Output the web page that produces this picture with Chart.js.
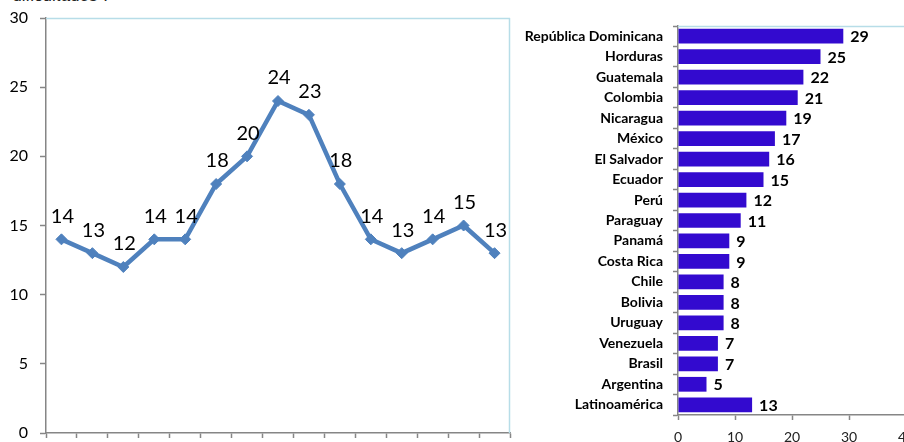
<!DOCTYPE html>
<html>
<head>
<meta charset="utf-8">
<script src="https://cdn.jsdelivr.net/npm/chart.js@4.4.1/dist/chart.umd.min.js"></script>
<style>
  html, body { margin: 0; padding: 0; background: #fff; overflow: hidden; width: 904px; height: 442px; }
  #wrap { position: relative; width: 904px; height: 442px; overflow: hidden; }
  #note { position: absolute; left: 13px; top: -14px; font: italic 17px "Liberation Sans", Arial, sans-serif; color: #222; }
  #lineChart { position: absolute; left: 0; top: 0; }
  #barChart { position: absolute; left: 511px; top: 0; }
</style>
</head>
<body>
<div id="wrap">
  <div id="note">dificultades".</div>
  <canvas id="lineChart" width="520" height="442"></canvas>
  <canvas id="barChart" width="420" height="442"></canvas>
</div>
<script>
// serie temporal (izquierda)
const periods     = ['1','2','3','4','5','6','7','8','9','10','11','12','13','14','15'];
const periodVals  = [14, 13, 12, 14, 14, 18, 20, 24, 23, 18, 14, 13, 14, 15, 13];
const yTicksLeft  = [0, 5, 10, 15, 20, 25, 30];

// países (derecha)
const countries = [
  'República Dominicana', 'Horduras', 'Guatemala', 'Colombia', 'Nicaragua',
  'México', 'El Salvador', 'Ecuador', 'Perú', 'Paraguay', 'Panamá',
  'Costa Rica', 'Chile', 'Bolivia', 'Uruguay', 'Venezuela', 'Brasil',
  'Argentina', 'Latinoamérica',
];
const countryVals = [29, 25, 22, 21, 19, 17, 16, 15, 12, 11, 9, 9, 8, 8, 8, 7, 7, 5, 13];
const xTicksRight = [0, 10, 20, 30, 40];

const AXIS  = '#868686';
const FRAME = '#b7dde8';
const FONT  = 'Lato, "Open Sans", sans-serif';

Chart.defaults.font.family = FONT;
Chart.defaults.color = '#000';

// sin relleno extra por las etiquetas de los ejes
const noPad = s => { s.paddingTop = 0; s.paddingBottom = 0; s.paddingLeft = 0; s.paddingRight = 0; };

// etiquetas de valor sobre los puntos
const pointLabels = {
  id: 'pointLabels',
  afterDatasetsDraw(chart) {
    const ctx = chart.ctx;
    const meta = chart.getDatasetMeta(0);
    ctx.save();
    ctx.font = '20px ' + FONT;
    ctx.fillStyle = '#000';
    ctx.textAlign = 'center';
    ctx.textBaseline = 'middle';
    meta.data.forEach((pt, i) => {
      ctx.fillText(String(periodVals[i]), pt.x + 1, pt.y - 23);
    });
    ctx.restore();
  },
};

// borde celeste arriba y a la derecha
const frameLines = {
  id: 'frameLines',
  beforeDatasetsDraw(chart, args, opts) {
    const { ctx, chartArea: a } = chart;
    ctx.save();
    ctx.strokeStyle = FRAME;
    ctx.lineWidth = 1.5;
    ctx.beginPath();
    ctx.moveTo(a.left, a.top + 0.5);
    ctx.lineTo(a.right, a.top + 0.5);
    if (opts.right) {
      ctx.moveTo(a.right - 0.5, a.top);
      ctx.lineTo(a.right - 0.5, a.bottom);
    }
    ctx.stroke();
    ctx.restore();
  },
};

// etiquetas al final de las barras
const barLabels = {
  id: 'barLabels',
  afterDatasetsDraw(chart) {
    const ctx = chart.ctx;
    const meta = chart.getDatasetMeta(0);
    ctx.save();
    ctx.font = 'bold 16px ' + FONT;
    ctx.fillStyle = '#000';
    ctx.textAlign = 'left';
    ctx.textBaseline = 'middle';
    meta.data.forEach((bar, i) => {
      ctx.fillText(String(countryVals[i]), bar.x + 7, bar.y + 1);
    });
    ctx.restore();
  },
};

new Chart(document.getElementById('lineChart'), {
  type: 'line',
  data: {
    labels: periods,
    datasets: [{
      data: periodVals,
      borderColor: '#4f81bd',
      backgroundColor: '#4f81bd',
      borderWidth: 4.5,
      pointStyle: 'rectRot',
      pointRadius: 5.5,
      pointBorderWidth: 1,
      tension: 0,
    }],
  },
  options: {
    responsive: false,
    animation: false,
    events: [],
    layout: { padding: { top: 18, left: 0, right: 10, bottom: 0 } },
    plugins: { legend: { display: false }, tooltip: { enabled: false }, frameLines: { right: true } },
    scales: {
      x: {
        offset: true,
        grid: { offset: true, drawOnChartArea: false, color: AXIS, tickLength: 5, tickWidth: 1.5 },
        border: { color: AXIS, width: 1.5 },
        ticks: { display: false },
        afterFit: s => { noPad(s); s.height = 9; },
      },
      y: {
        min: 0, max: 30,
        afterBuildTicks: s => { s.ticks = yTicksLeft.map(v => ({ value: v })); },
        grid: { drawOnChartArea: false, color: AXIS, tickLength: 6, tickWidth: 1.5 },
        border: { color: AXIS, width: 1.5 },
        ticks: { padding: 12, font: { size: 16 }, color: '#000' },
        afterFit: s => { noPad(s); s.width = 46; },
      },
    },
  },
  plugins: [frameLines, pointLabels],
});

new Chart(document.getElementById('barChart'), {
  type: 'bar',
  data: {
    labels: countries,
    datasets: [{
      data: countryVals,
      backgroundColor: '#330acf',
      categoryPercentage: 1,
      barPercentage: 0.72,
    }],
  },
  options: {
    indexAxis: 'y',
    responsive: false,
    animation: false,
    events: [],
    layout: { padding: { top: 26, left: 0, right: 25, bottom: 0 } },
    plugins: { legend: { display: false }, tooltip: { enabled: false }, frameLines: { right: false } },
    scales: {
      x: {
        min: 0, max: 40,
        afterBuildTicks: s => { s.ticks = xTicksRight.map(v => ({ value: v })); },
        grid: { drawOnChartArea: false, color: AXIS, tickLength: 5, tickWidth: 1.5 },
        border: { color: AXIS, width: 1.5 },
        ticks: { padding: 9, font: { size: 14 }, color: '#222' },
        afterFit: s => { noPad(s); s.height = 27; },
      },
      y: {
        grid: { offset: true, drawOnChartArea: false, color: AXIS, tickLength: 5, tickWidth: 1.5 },
        border: { color: AXIS, width: 1.5 },
        ticks: { padding: 10, autoSkip: false, font: { size: 14, weight: 'bold' }, color: '#000' },
        afterFit: s => { noPad(s); s.width = 167; },
      },
    },
  },
  plugins: [frameLines, barLabels],
});
</script>
</body>
</html>
